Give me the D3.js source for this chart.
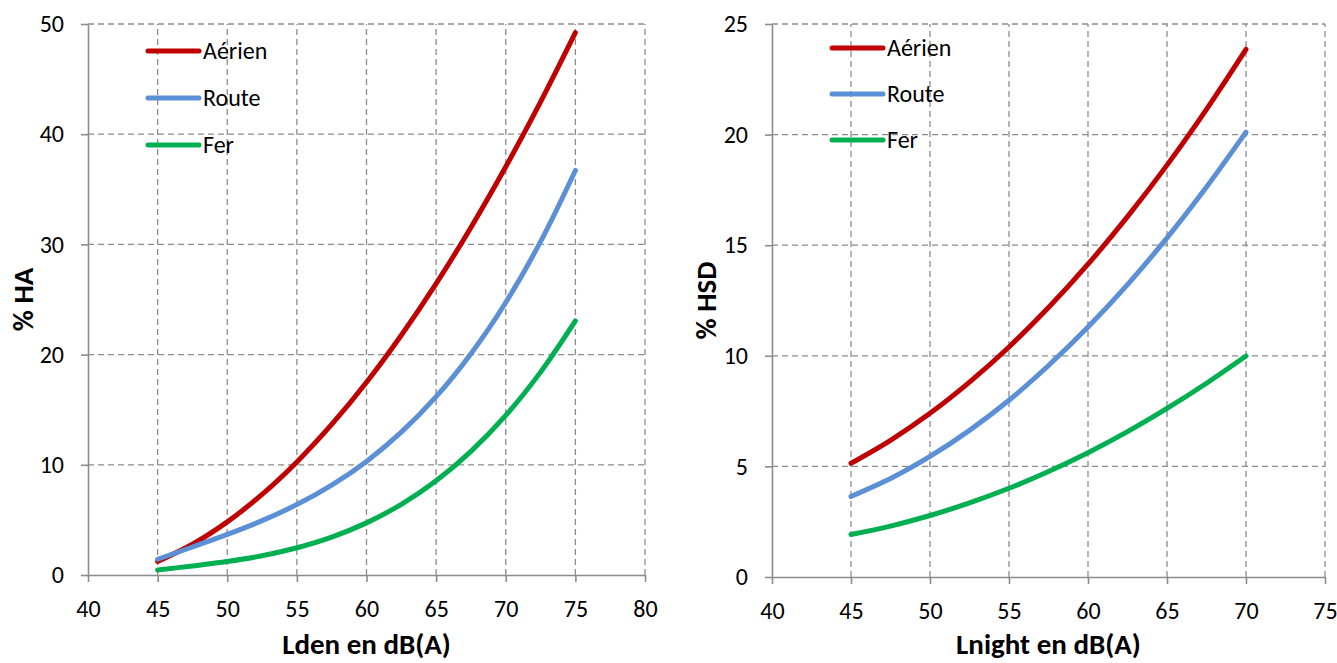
<!DOCTYPE html>
<html lang="fr">
<head>
  <meta charset="UTF-8">
  <title>% HA et % HSD</title>
  <style>
    body { margin: 0; background: #fff; }
    svg text { font-family: Calibri, Carlito, "Open Sans", "Noto Sans", sans-serif; fill: #000; }
    .tick text { font-size: 24px; }
    .grid line { stroke: #8c8c8c; stroke-width: 1.3px; stroke-dasharray: 6,4; }
    .axis path, .axis line { stroke: #8c8c8c; stroke-width: 1.6px; }
    .title { font-size: 29px; font-weight: bold; }
    .line { fill: none; stroke-width: 5px; stroke-linecap: round; }
    .legend text { font-size: 24px; }
  </style>
</head>
<body>
<script src="https://d3js.org/d3.v7.min.js"></script>
<script>
// ---- left chart: Lden vs % HA
const ldenX = [45, 47.5, 50, 52.5, 55, 57.5, 60, 62.5, 65, 67.5, 70, 72.5, 75]
const haAerien = [1.23, 2.79, 4.82, 7.31, 10.26, 13.66, 17.49, 21.76, 26.44, 31.54, 37.04, 42.93, 49.21]
const haRoute  = [1.43, 2.54, 3.68, 4.93, 6.39, 8.16, 10.31, 12.96, 16.18, 20.08, 24.73, 30.25, 36.71]
const haFer    = [0.46, 0.82, 1.22, 1.75, 2.47, 3.44, 4.73, 6.41, 8.55, 11.22, 14.48, 18.41, 23.06]

// ---- right chart: Lnight vs % HSD
const lnightX = [45, 47.5, 50, 52.5, 55, 57.5, 60, 62.5, 65, 67.5, 70]
const hsdAerien = [5.14, 6.18, 7.40, 8.81, 10.40, 12.18, 14.14, 16.29, 18.62, 21.14, 23.85]
const hsdRoute  = [3.64, 4.45, 5.45, 6.63, 7.99, 9.56, 11.30, 13.22, 15.33, 17.63, 20.11]
const hsdFer    = [1.92, 2.30, 2.78, 3.35, 4.01, 4.77, 5.62, 6.57, 7.62, 8.76, 9.99]

const seriesNames = ['Aérien', 'Route', 'Fer']
const seriesColors = ['#c00000', '#5b8fd6', '#00b050']

const leftXTicks = [40, 45, 50, 55, 60, 65, 70, 75, 80]
const leftYTicks = [0, 10, 20, 30, 40, 50]
const rightXTicks = [40, 45, 50, 55, 60, 65, 70, 75]
const rightYTicks = [0, 5, 10, 15, 20, 25]

const svg = d3.select('body').append('svg')
  .attr('width', 1337)
  .attr('height', 663)

function chart (cfg) {
  const x = d3.scaleLinear().domain(cfg.xDomain).range(cfg.xRange)
  const y = d3.scaleLinear().domain(cfg.yDomain).range(cfg.yRange)
  const g = svg.append('g')

  // grid
  g.append('g').attr('class', 'grid')
    .selectAll('line.h').data(cfg.yTicks.slice(1)).enter().append('line')
    .attr('x1', cfg.xRange[0]).attr('x2', cfg.xRange[1])
    .attr('y1', d => y(d)).attr('y2', d => y(d))
  g.append('g').attr('class', 'grid')
    .selectAll('line.v').data(cfg.xTicks.slice(1)).enter().append('line')
    .attr('x1', d => x(d)).attr('x2', d => x(d))
    .attr('y1', cfg.yRange[0]).attr('y2', cfg.yRange[1])

  // axes
  g.append('g')
    .attr('class', 'axis')
    .attr('transform', 'translate(0,' + cfg.yRange[0] + ')')
    .call(d3.axisBottom(x).tickValues(cfg.xTicks).tickSize(7).tickPadding(18).tickSizeOuter(0))
  g.append('g')
    .attr('class', 'axis')
    .attr('transform', 'translate(' + cfg.xRange[0] + ',0)')
    .call(d3.axisLeft(y).tickValues(cfg.yTicks).tickSize(7).tickPadding(17).tickSizeOuter(0))

  // lines
  const line = d3.line()
    .x(d => x(d[0]))
    .y(d => y(d[1]))
    .curve(d3.curveCatmullRom)
  cfg.series.forEach((vals, i) => {
    g.append('path')
      .datum(cfg.xs.map((v, j) => [v, vals[j]]))
      .attr('class', 'line')
      .attr('stroke', seriesColors[i])
      .attr('d', line)
  })

  // legend
  const lg = g.append('g').attr('class', 'legend')
    .attr('transform', 'translate(' + cfg.legend[0] + ',' + cfg.legend[1] + ')')
  seriesNames.forEach((name, i) => {
    lg.append('line')
      .attr('class', 'line')
      .attr('stroke', seriesColors[i])
      .attr('x1', 0).attr('x2', 51)
      .attr('y1', i * cfg.legendStep).attr('y2', i * cfg.legendStep)
    lg.append('text')
      .attr('x', 55).attr('y', i * cfg.legendStep)
      .attr('dy', '0.35em')
      .text(name)
  })

  // titles
  const cx = (cfg.xRange[0] + cfg.xRange[1]) / 2
  g.append('text').attr('class', 'title')
    .attr('x', cx).attr('y', 654)
    .attr('text-anchor', 'middle')
    .text(cfg.xTitle)
  g.append('text').attr('class', 'title')
    .attr('transform', 'translate(' + cfg.yTitleX + ',' + ((cfg.yRange[0] + cfg.yRange[1]) / 2) + ') rotate(-90)')
    .attr('text-anchor', 'middle')
    .text(cfg.yTitle)
}

chart({
  xDomain: [40, 80], xRange: [88, 645],
  yDomain: [0, 50], yRange: [575, 24],
  xTicks: leftXTicks, yTicks: leftYTicks,
  xs: ldenX, series: [haAerien, haRoute, haFer],
  legend: [148, 51], legendStep: 47,
  xTitle: 'Lden en dB(A)', yTitle: '% HA', yTitleX: 33
})

chart({
  xDomain: [40, 75], xRange: [772, 1325],
  yDomain: [0, 25], yRange: [577, 24],
  xTicks: rightXTicks, yTicks: rightYTicks,
  xs: lnightX, series: [hsdAerien, hsdRoute, hsdFer],
  legend: [832, 48], legendStep: 46,
  xTitle: 'Lnight en dB(A)', yTitle: '% HSD', yTitleX: 716
})
</script>
</body>
</html>
